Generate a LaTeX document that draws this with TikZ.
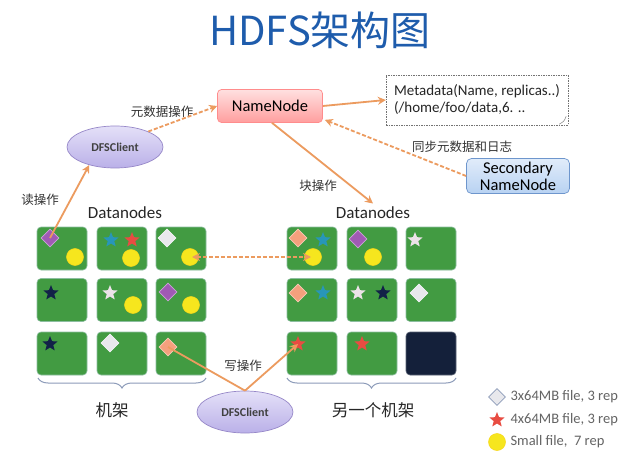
\documentclass[tikz,border=0pt]{standalone}
\usepackage{fontspec}
\setmainfont{Carlito}
\newfontfamily\cjk{Noto Sans CJK SC}
\usetikzlibrary{shapes.geometric,arrows.meta,decorations.pathreplacing}
\definecolor{titleblue}{RGB}{30,92,172}
\definecolor{cellgreen}{RGB}{66,155,66}
\definecolor{cellborder}{RGB}{140,190,160}
\definecolor{arrorange}{RGB}{236,155,95}
\definecolor{ydot}{RGB}{246,230,30}
\definecolor{dpurple}{RGB}{160,90,180}
\definecolor{dsalmon}{RGB}{244,160,125}
\definecolor{dgray}{RGB}{232,232,236}
\definecolor{steal}{RGB}{40,150,185}
\definecolor{sred}{RGB}{232,76,66}
\definecolor{snavy}{RGB}{18,34,72}
\definecolor{slight}{RGB}{236,226,232}
\definecolor{darkcell}{RGB}{20,32,58}
\definecolor{legtext}{RGB}{100,100,100}
\definecolor{bracec}{RGB}{140,155,185}
\definecolor{lavtop}{RGB}{228,224,248}
\definecolor{lavbot}{RGB}{186,176,232}
\definecolor{lavdraw}{RGB}{150,135,200}
\definecolor{sectop}{RGB}{225,236,250}
\definecolor{secbot}{RGB}{184,210,242}
\definecolor{secdraw}{RGB}{110,150,205}
\begin{document}
\begin{tikzpicture}[x=1pt,y=-1pt,
  cell/.style={rectangle, rounded corners=4pt, fill=cellgreen, draw=cellborder, line width=0.6pt, minimum width=50pt, minimum height=43pt, inner sep=0},
  diam/.style={diamond, minimum width=18pt, minimum height=18pt, inner sep=0, fill=#1, draw=#1!55!white, line width=0.6pt},
  starshape/.style={star, star points=5, star point ratio=2.3, minimum size=16pt, inner sep=0, fill=#1},
  ycirc/.style={circle, minimum size=17pt, inner sep=0, fill=ydot, draw=ydot!85!orange, line width=0.5pt},
  arr/.style={draw=arrorange, line width=1.8pt, -{Stealth[length=8pt,width=8pt]}},
  darr/.style={arr, dash pattern=on 4pt off 2pt},
  client/.style={ellipse, minimum width=96pt, minimum height=42pt, inner sep=0, top color=lavtop, bottom color=lavbot, draw=lavdraw, line width=0.7pt, font=\bfseries\fontsize{12}{12}\selectfont, text=black!75},
  lbl/.style={font=\cjk\fontsize{12.5}{12.5}\selectfont, text=black!80},
  dnlbl/.style={font=\fontsize{17}{17}\selectfont, text=black!85},
  leg/.style={font=\fontsize{14.5}{14.5}\selectfont, text=legtext, anchor=west},
  bracestyle/.style={draw=bracec, line width=1pt, decorate, decoration={brace, mirror, amplitude=10pt}}
]
\useasboundingbox (0,0) rectangle (624,476);
\fill[white] (0,0) rectangle (624,476);

% title
\node[font=\cjk\fontsize{40}{40}\selectfont, text=titleblue] (title) at (320,30) {HDFS架构图};

% NameNode
\node[rectangle, rounded corners=4pt, minimum width=105pt, minimum height=33pt, top color=red!12!white, bottom color=red!38!white, draw=red!45!white, line width=0.7pt, font=\fontsize{16.5}{16.5}\selectfont] (NN) at (270,106) {NameNode};

% Metadata
\node[rectangle, minimum width=176pt, minimum height=50pt, draw=black!55, dashed, dash pattern=on 1.5pt off 1pt, line width=0.5pt, align=left, font=\fontsize{15}{17}\selectfont, text=black!85, inner xsep=8pt] (Meta) at (477,100) {Metadata(Name, replicas..)\\(/home/foo/data,6. ..};
\draw[black!50, line width=0.5pt] ([xshift=-9pt,yshift=1pt]Meta.south east) .. controls ([xshift=-4pt,yshift=4pt]Meta.south east) .. ([xshift=-2pt,yshift=9pt]Meta.south east);

% Secondary NameNode
\node[rectangle, rounded corners=5pt, minimum width=103pt, minimum height=35pt, top color=sectop, bottom color=secbot, draw=secdraw, line width=0.7pt, align=center, font=\fontsize{16.5}{17}\selectfont, inner sep=1pt] (Sec) at (518,176) {Secondary\\NameNode};
\node[lbl] (synclbl) at (462,147) {同步元数据和日志};

% clients
\node[client] (DFS1) at (115,147) {DFSClient};
\node[client] (DFS2) at (245,412) {DFSClient};

% labels
\node[lbl] (metalbl) at (162,112) {元数据操作};
\node[lbl] (blklbl) at (318,186) {块操作};
\node[lbl] (readlbl) at (40,200) {读操作};
\node[lbl] (writelbl) at (243,366) {写操作};

\node[dnlbl] (DNL) at (125,213) {Datanodes};
\node[dnlbl] (DNR) at (373,213) {Datanodes};

% braces
\coordinate (LB1) at (38,378);
\coordinate (LB2) at (206,378);
\coordinate (RB1) at (287,378);
\coordinate (RB2) at (456,378);
\draw[bracestyle] (LB1) -- (LB2);
\draw[bracestyle] (RB1) -- (RB2);

% left grid
\node[cell] (L11) at (62,248.5) {};
\node[cell] (L12) at (122,248.5) {};
\node[cell] (L13) at (181,248.5) {};
\node[cell] (L21) at (62,300) {};
\node[cell] (L22) at (122,300) {};
\node[cell] (L23) at (181,300) {};
\node[cell] (L31) at (62,353.5) {};
\node[cell] (L32) at (122,353.5) {};
\node[cell] (L33) at (181,353.5) {};
% right grid
\node[cell] (R11) at (312,248.5) {};
\node[cell] (R12) at (372,248.5) {};
\node[cell] (R13) at (431,248.5) {};
\node[cell] (R21) at (312,300) {};
\node[cell] (R22) at (372,300) {};
\node[cell] (R23) at (431,300) {};
\node[cell] (R31) at (312,353.5) {};
\node[cell] (R32) at (372,353.5) {};
\node[cell, fill=darkcell, draw=darkcell!70!white] (R33) at (431,353.5) {};

% items left
\node[diam=dpurple] (L11d) at (50,238) {};
\node[ycirc] (L11c) at (75,257) {};
\node[starshape=steal] (L12s1) at (111,240) {};
\node[starshape=sred] (L12s2) at (132,240) {};
\node[ycirc] (L12c) at (131,258) {};
\node[diam=dgray] (L13d) at (167,238) {};
\node[ycirc] (L13c) at (190,257) {};
\node[starshape=snavy] (L21s) at (51,293) {};
\node[starshape=slight] (L22s) at (110,293) {};
\node[ycirc] (L22c) at (133,305) {};
\node[diam=dpurple] (L23d) at (168,292) {};
\node[ycirc] (L23c) at (191,305) {};
\node[starshape=snavy] (L31s) at (50,344) {};
\node[diam=dgray] (L32d) at (110,343) {};
\node[diam=dsalmon] (L33d) at (168,347) {};
% items right
\node[diam=dsalmon] (R11d) at (298,238) {};
\node[starshape=steal] (R11s) at (323,240) {};
\node[ycirc] (R11c) at (313,257) {};
\node[diam=dpurple] (R12d) at (358,239) {};
\node[ycirc] (R12c) at (373,257) {};
\node[starshape=slight] (R13s) at (415,240) {};
\node[diam=dsalmon] (R21d) at (298,293) {};
\node[starshape=steal] (R21s) at (323,293) {};
\node[starshape=slight] (R22s1) at (358,293) {};
\node[starshape=snavy] (R22s2) at (383,293) {};
\node[diam=dgray] (R23d) at (419,293) {};
\node[starshape=sred] (R31s) at (298,344) {};
\node[starshape=sred] (R32s) at (362,344) {};

\node[font=\cjk\fontsize{16.5}{16.5}\selectfont, text=black!85] (rack1) at (112,410) {机架};
\node[font=\cjk\fontsize{16.5}{16.5}\selectfont, text=black!85] (rack2) at (373,410) {另一个机架};

% connectors
\draw[darr] (DFS1.25) -- (NN.west);
\draw[arr] (NN.east) -- (Meta.west);
\draw[darr] (Sec.west) -- ([xshift=2pt,yshift=3pt]NN.south east);
\draw[arr] ([xshift=2pt]NN.south) -- (DNR.north);
\draw[arr] (L11d.center) -- (DFS1.215);
\draw[darr, {Stealth[length=8pt,width=8pt]}-{Stealth[length=8pt,width=8pt]}, shorten <=2pt, shorten >=2pt] (L13c.center) -- (R11c.center);
\draw[draw=arrorange, line width=1.8pt] (DFS2.north) -- (L33d.center);
\draw[arr] (DFS2.north) -- (R31s.center);

% legend
\node[diam=dgray, draw=bracec, minimum width=17pt, minimum height=17pt] (legd) at (497,397) {};
\node[leg] (legdt) at (507,397) {3x64MB file, 3 rep};
\node[starshape=sred] (legs) at (497,420) {};
\node[leg] (legst) at (507,420) {4x64MB file, 3 rep};
\node[ycirc] (legc) at (497,442) {};
\node[leg] (legct) at (507,442) {Small file,\ \ 7 rep};
\end{tikzpicture}
\end{document}
